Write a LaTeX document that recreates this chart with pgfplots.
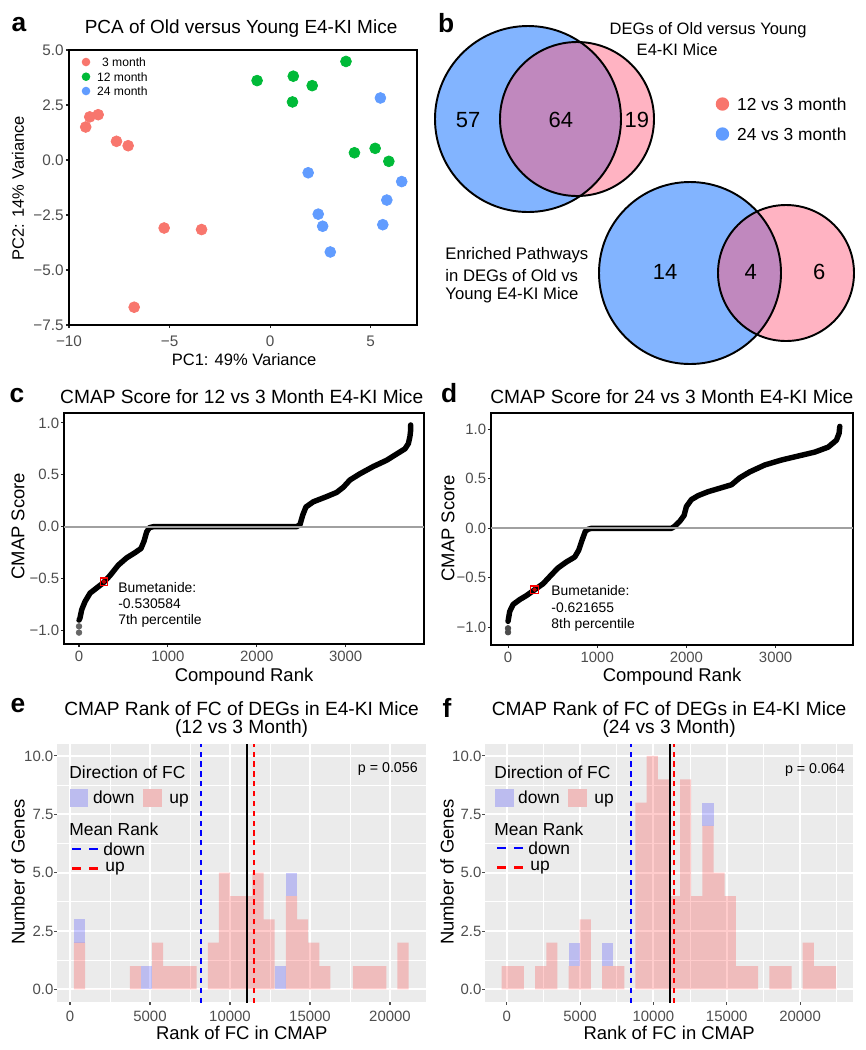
\documentclass[border=0pt]{standalone}
\usepackage{fontspec}
\setmainfont{Liberation Sans}
\usepackage{pgfplots}
\pgfplotsset{compat=1.18}
\usetikzlibrary{calc}

\definecolor{pcared}{HTML}{F8766D}
\definecolor{pcagreen}{HTML}{00BA38}
\definecolor{pcablue}{HTML}{619CFF}
\definecolor{vblue}{HTML}{82B4FF}
\definecolor{vpink}{HTML}{FFB3C2}
\definecolor{vpurple}{HTML}{C088BE}
\definecolor{ggbg}{HTML}{EBEBEB}
\definecolor{tickgray}{HTML}{4D4D4D}
\definecolor{hlgray}{HTML}{A0A0A0}
\definecolor{keyblue}{HTML}{BCBCEF}
\definecolor{keypink}{HTML}{EFBCBC}

\newcommand\pxu{0.02cm}
\newcommand\fTitle{\fontsize{10.9}{12}\selectfont}
\newcommand\fTitleTwo{\fontsize{10.9}{10.2}\selectfont}
\newcommand\fLab{\fontsize{10.5}{12}\selectfont}
\newcommand\fTick{\fontsize{8.5}{10}\selectfont}
\newcommand\fLeg{\fontsize{9.9}{11}\selectfont}
\newcommand\fAnn{\fontsize{7.9}{9}\selectfont}
\newcommand\fNum{\fontsize{12.5}{14}\selectfont}
\newcommand\fLetter{\fontsize{15}{17}\selectfont\bfseries}

\pgfplotsset{
  boxaxis/.style={scale only axis, anchor=north west,
    axis line style={line width=1.1pt, black},
    tick align=outside, major tick length=1.8pt, tick pos=left,
    tick style={line width=0.6pt, black!85},
    tick label style={font=\fTick, text=tickgray},
    xticklabel style={anchor=north, inner sep=0pt},
    yticklabel style={anchor=east, inner sep=0pt},
    scaled ticks=false, every axis plot/.append style={mark=none}},
  ggpanel/.style={scale only axis, anchor=north west,
    axis background/.style={fill=ggbg}, axis line style={draw=none},
    grid=both, major grid style={white, line width=1.1pt},
    minor grid style={white, line width=0.55pt},
    tick align=outside, major tick length=1.6pt, minor tick length=0pt, tick pos=left,
    tick style={line width=0.6pt, black!70},
    tick label style={font=\fTick, text=tickgray},
    xticklabel style={anchor=north, inner sep=0pt, yshift=-3.4pt},
    yticklabel style={anchor=east, inner sep=0pt, xshift=-0.3pt},
    scaled ticks=false, every axis plot/.append style={mark=none}},
  upbar/.style={ybar interval, fill=red, fill opacity=0.2, draw=none},
  downbar/.style={fill=blue, fill opacity=0.2, draw=none},
  meanline/.style={line width=1.1pt, dash pattern=on 3pt off 2.6pt},
}

\begin{document}
\begin{tikzpicture}
\path[use as bounding box] (0,0) rectangle (17.32cm,-21cm);

% ---- a: PCA
\begin{axis}[boxaxis, at={(1.38cm,-1.0cm)}, width=6.96cm, height=5.5cm,
  xmin=-10, xmax=7.3, ymin=-7.5, ymax=5.0,
  tick label style={font=\fontsize{8.7}{10}\selectfont},
  xticklabel style={yshift=-4.3pt}, yticklabel style={xshift=-1.1pt},
  xtick={-10,-5,0,5}, xticklabels={−10,−5,0,5},
  ytick={-7.5,-5,-2.5,0,2.5,5}, yticklabels={−7.5,−5.0,−2.5,0.0,2.5,5.0}]
\addplot[only marks, mark=*, mark size=3.1pt, color=pcared] coordinates {
  (-9.17,1.50) (-8.97,1.96) (-8.55,2.06) (-7.64,0.85)
  (-7.06,0.65) (-5.27,-3.09) (-3.41,-3.16) (-6.76,-6.69)};
\addplot[only marks, mark=*, mark size=3.1pt, color=pcagreen] coordinates {
  (-0.65,3.61) (1.15,3.81) (2.09,3.38) (1.11,2.64)
  (3.77,4.48) (4.19,0.33) (5.22,0.53) (5.90,-0.06)};
\addplot[only marks, mark=*, mark size=3.1pt, color=pcablue] coordinates {
  (5.48,2.82) (1.89,-0.58) (6.54,-0.98) (5.80,-1.82)
  (2.39,-2.46) (2.61,-3.01) (5.60,-2.94) (2.99,-4.18)};
\end{axis}

% ---- b: Venn diagrams
\begin{axis}[at={(8.6cm,0cm)}, anchor=north west, scale only axis,
  width=8.72cm, height=7.4cm, xmin=430, xmax=866, ymin=0, ymax=370,
  y dir=reverse, hide axis, clip=false]
\fill[vblue] (axis cs:528,119) circle[radius=1.86cm];
\fill[vpink] (axis cs:577,119) circle[radius=1.54cm];
\begin{scope}
  \clip (axis cs:528,119) circle[radius=1.86cm];
  \fill[vpurple] (axis cs:577,119) circle[radius=1.54cm];
\end{scope}
\draw[line width=1.1pt] (axis cs:528,119) circle[radius=1.86cm];
\draw[line width=1.1pt] (axis cs:577,119) circle[radius=1.54cm];
\fill[vblue] (axis cs:690,273) circle[radius=1.82cm];
\fill[vpink] (axis cs:786,273) circle[radius=1.36cm];
\begin{scope}
  \clip (axis cs:690,273) circle[radius=1.82cm];
  \fill[vpurple] (axis cs:786,273) circle[radius=1.36cm];
\end{scope}
\draw[line width=1.1pt] (axis cs:690,273) circle[radius=1.82cm];
\draw[line width=1.1pt] (axis cs:786,273) circle[radius=1.36cm];
\end{axis}

% ---- c: CMAP score 12 vs 3
\begin{axis}[boxaxis, at={(1.28cm,-8.26cm)}, width=7.2cm, height=4.62cm,
  xmin=-169, xmax=3881, ymin=-1.13, ymax=1.095,
  xticklabel style={yshift=-1.8pt}, yticklabel style={xshift=-0.8pt},
  xtick={0,1000,2000,3000}, xticklabels={0,1000,2000,3000},
  ytick={-1,-0.5,0,0.5,1}, yticklabels={−1.0,−0.5,0.0,0.5,1.0}]
\addplot[black, line width=3.1pt, line join=round, line cap=round] coordinates {
  (0,-0.90) (11,-0.88) (30,-0.80) (68,-0.72) (124,-0.64) (199,-0.59)
  (274,-0.54) (349,-0.47) (442,-0.37) (536,-0.30) (630,-0.25) (697,-0.21)
  (731,-0.14) (761,-0.05) (791,-0.01) (836,0) (2448,0) (2486,0.02)
  (2516,0.11) (2553,0.19) (2636,0.24) (2786,0.29) (2898,0.33) (2973,0.38)
  (3048,0.45) (3161,0.51) (3311,0.58) (3461,0.64) (3573,0.70) (3667,0.75)
  (3705,0.80) (3723,0.87) (3731,0.93) (3731,0.98)};
\addplot[only marks, mark=*, mark size=1.6pt, black!60] coordinates {(0,-0.96) (0,-1.02)};
\addplot[hlgray, line width=1.1pt] coordinates {(-169,0) (3881,0)};
\addplot[only marks, mark=square, mark size=2.1pt, red, line width=0.6pt] coordinates {(280,-0.53)};
\addplot[only marks, mark=*, mark size=1.1pt, red!75!black] coordinates {(280,-0.53)};
\end{axis}

% ---- d: CMAP score 24 vs 3
\begin{axis}[boxaxis, at={(9.82cm,-8.26cm)}, width=7.24cm, height=4.64cm,
  xmin=-191, xmax=3868, ymin=-1.179, ymax=1.165,
  xticklabel style={yshift=-1.8pt}, yticklabel style={xshift=-0.8pt},
  xtick={0,1000,2000,3000}, xticklabels={0,1000,2000,3000},
  ytick={-1,-0.5,0,0.5,1}, yticklabels={−1.0,−0.5,0.0,0.5,1.0}]
\addplot[black, line width=3.1pt, line join=round, line cap=round] coordinates {
  (0,-0.94) (19,-0.84) (56,-0.77) (131,-0.72) (206,-0.68) (299,-0.62)
  (393,-0.56) (486,-0.47) (561,-0.40) (654,-0.34) (748,-0.29) (793,-0.22)
  (830,-0.12) (867,-0.03) (897,-0.01) (935,0) (1832,0) (1869,0.02)
  (1925,0.07) (1974,0.13) (2000,0.22) (2056,0.29) (2131,0.33) (2243,0.37)
  (2393,0.41) (2505,0.44) (2598,0.51) (2710,0.57) (2879,0.64) (3065,0.69)
  (3252,0.73) (3439,0.77) (3589,0.82) (3682,0.89) (3712,0.96) (3720,1.03)};
\addplot[only marks, mark=*, mark size=1.6pt, black!70] coordinates {(0,-1.01) (0,-1.05)};
\addplot[hlgray, line width=1.1pt] coordinates {(-191,0) (3868,0)};
\addplot[only marks, mark=square, mark size=2.1pt, red, line width=0.6pt] coordinates {(298,-0.62)};
\addplot[only marks, mark=*, mark size=1.1pt, red!75!black] coordinates {(298,-0.62)};
\end{axis}

% ---- e: histogram 12 vs 3
\begin{axis}[ggpanel, at={(1.14cm,-14.88cm)}, width=7.38cm, height=5.16cm,
  xmin=-812, xmax=22250, ymin=-0.54, ymax=10.51,
  xtick={0,5000,10000,15000,20000}, xticklabels={0,5000,10000,15000,20000},
  minor xtick={2500,7500,12500,17500},
  ytick={0,2.5,5,7.5,10}, yticklabels={0.0,2.5,5.0,7.5,10.0},
  minor ytick={1.25,3.75,6.25,8.75}]
\addplot[upbar] coordinates {
  (250,2) (947,0) (1644,0) (2341,0) (3038,0) (3735,1) (4432,0) (5129,2)
  (5826,1) (6523,1) (7220,1) (7917,0) (8614,2) (9311,5) (10008,4) (10705,4)
  (11402,5) (12099,3) (12796,0) (13493,4) (14190,3) (14887,2) (15584,1)
  (16281,0) (16978,0) (17675,1) (18372,1) (19069,1) (19766,0) (20463,2) (21160,0)};
\addplot[downbar] coordinates {(250,2) (947,2) (947,3) (250,3)};
\addplot[downbar] coordinates {(4432,0) (5129,0) (5129,1) (4432,1)};
\addplot[downbar] coordinates {(12796,0) (13493,0) (13493,1) (12796,1)};
\addplot[downbar] coordinates {(13493,4) (14190,4) (14190,5) (13493,5)};
\addplot[blue, meanline] coordinates {(8188,-1) (8188,11)};
\addplot[black, line width=1.1pt] coordinates {(11083,-1) (11083,11)};
\addplot[red, meanline] coordinates {(11500,-1) (11500,11)};
\end{axis}

% ---- f: histogram 24 vs 3
\begin{axis}[ggpanel, at={(9.7cm,-14.88cm)}, width=7.36cm, height=5.16cm,
  xmin=-1479, xmax=23606, ymin=-0.54, ymax=10.51,
  xtick={0,5000,10000,15000,20000}, xticklabels={0,5000,10000,15000,20000},
  minor xtick={2500,7500,12500,17500,22500},
  ytick={0,2.5,5,7.5,10}, yticklabels={0.0,2.5,5.0,7.5,10.0},
  minor ytick={1.25,3.75,6.25,8.75}]
\addplot[upbar] coordinates {
  (-341,1) (419,1) (1179,0) (1939,1) (2699,2) (3459,0) (4219,1) (4979,3)
  (5739,0) (6499,1) (7259,1) (8019,0) (8779,8) (9539,10) (10299,9) (11059,4)
  (11819,9) (12579,4) (13339,7) (14099,5) (14859,4) (15619,1) (16379,1)
  (17139,0) (17899,1) (18659,1) (19419,0) (20179,2) (20939,1) (21699,1) (22459,0)};
\addplot[downbar] coordinates {(4219,1) (4979,1) (4979,2) (4219,2)};
\addplot[downbar] coordinates {(6499,1) (7259,1) (7259,2) (6499,2)};
\addplot[downbar] coordinates {(13339,7) (14099,7) (14099,8) (13339,8)};
\addplot[blue, meanline] coordinates {(8453,-1) (8453,11)};
\addplot[black, line width=1.1pt] coordinates {(11132,-1) (11132,11)};
\addplot[red, meanline] coordinates {(11425,-1) (11425,11)};
\end{axis}

% ---- text, titles and legends in pixel coordinates
\begin{scope}[x=\pxu, y=-\pxu, every node/.style={inner sep=0pt}]
% letters
\node[font=\fLetter] at (19,25) {a};
\node[font=\fLetter] at (446,23) {b};
\node[font=\fLetter] at (17,395) {c};
\node[font=\fLetter] at (449,393) {d};
\node[font=\fLetter] at (18,705) {e};
\node[font=\fLetter] at (447,708) {f};
% a
\node[font=\fontsize{10.8}{12}\selectfont] at (241,29) {PCA of Old versus Young E4-KI Mice};
\node[font=\fontsize{9.4}{11}\selectfont] at (244,360) {PC1: 49\% Variance};
\node[font=\fontsize{9.4}{11}\selectfont, rotate=90] at (18,188) {PC2: 14\% Variance};
\fill[pcared] (86,62) circle[radius=4.3];
\fill[pcagreen] (86,76.7) circle[radius=4.3];
\fill[pcablue] (86,91) circle[radius=4.3];
\node[font=\fontsize{6.9}{8}\selectfont, anchor=west] at (101.7,62) {3 month};
\node[font=\fontsize{6.9}{8}\selectfont, anchor=west] at (96.7,76.7) {12 month};
\node[font=\fontsize{6.9}{8}\selectfont, anchor=west] at (96.7,91) {24 month};
% b
\node[font=\fontsize{9.4}{11}\selectfont] at (708,30) {DEGs of Old versus Young};
\node[font=\fontsize{9.4}{11}\selectfont] at (677,50) {E4-KI Mice};
\node[font=\fNum] at (468,120) {57};
\node[font=\fNum] at (560.7,120) {64};
\node[font=\fNum] at (636.7,120) {19};
\node[font=\fNum] at (665,272) {14};
\node[font=\fNum] at (750.7,272) {4};
\node[font=\fNum] at (819,272) {6};
\fill[pcared] (722.3,104) circle[radius=6.7];
\fill[pcablue] (722.3,134) circle[radius=6.7];
\node[font=\fLeg, anchor=west] at (736.7,104) {12 vs 3 month};
\node[font=\fLeg, anchor=west] at (736.7,134) {24 vs 3 month};
\node[font=\fontsize{9.5}{11}\selectfont, anchor=west] at (445,255) {Enriched Pathways};
\node[font=\fontsize{9.5}{11}\selectfont, anchor=west] at (445,275) {in DEGs of Old vs};
\node[font=\fontsize{9.5}{11}\selectfont, anchor=west] at (445,295) {Young E4-KI Mice};
% c, d
\node[font=\fTitle] at (241.7,397) {CMAP Score for 12 vs 3 Month E4-KI Mice};
\node[font=\fTitle] at (671.7,397) {CMAP Score for 24 vs 3 Month E4-KI Mice};
\node[font=\fLab] at (244,677) {Compound Rank};
\node[font=\fLab] at (672,677) {Compound Rank};
\node[font=\fLab, rotate=90] at (18,526) {CMAP Score};
\node[font=\fLab, rotate=90] at (448,528) {CMAP Score};
\node[font=\fAnn, anchor=west] at (118,587) {Bumetanide:};
\node[font=\fAnn, anchor=west] at (118,604) {-0.530584};
\node[font=\fAnn, anchor=west] at (118,621) {7th percentile};
\node[font=\fAnn, anchor=west] at (551,590) {Bumetanide:};
\node[font=\fAnn, anchor=west] at (551,608) {-0.621655};
\node[font=\fAnn, anchor=west] at (551,625) {8th percentile};
% e, f titles and labels
\node[font=\fTitleTwo, align=center] at (241.5,719) {CMAP Rank of FC of DEGs in E4-KI Mice\\(12 vs 3 Month)};
\node[font=\fTitleTwo, align=center] at (669,719) {CMAP Rank of FC of DEGs in E4-KI Mice\\(24 vs 3 Month)};
\node[font=\fLab] at (241.7,1033) {Rank of FC in CMAP};
\node[font=\fLab] at (669,1033) {Rank of FC in CMAP};
\node[font=\fLab, rotate=90] at (18,872) {Number of Genes};
\node[font=\fLab, rotate=90] at (447,872) {Number of Genes};
\node[font=\fontsize{8.1}{9}\selectfont, anchor=east] at (418,769) {p = 0.056};
\node[font=\fontsize{8.1}{9}\selectfont, anchor=east] at (845,770) {p = 0.064};
% e legend
\node[font=\fLeg, anchor=base west] at (69,778) {Direction of FC};
\fill[keyblue] (70,789) rectangle (88,807);
\fill[keypink] (143,789) rectangle (162,807);
\node[font=\fLeg, anchor=base west] at (92.7,803.3) {down};
\node[font=\fLeg, anchor=base west] at (169,803.3) {up};
\node[font=\fLeg, anchor=base west] at (69,835) {Mean Rank};
\draw[blue, line width=1.5pt] (72,849)--(80.7,849) (89.3,849)--(98,849);
\draw[red, line width=1.5pt] (72,868)--(80.7,868) (89.3,868)--(98,868);
\node[font=\fLeg, anchor=base west] at (103,855) {down};
\node[font=\fLeg, anchor=base west] at (105,871.7) {up};
% f legend
\node[font=\fLeg, anchor=base west] at (494,778) {Direction of FC};
\fill[keyblue] (495,789) rectangle (514,807);
\fill[keypink] (568,789) rectangle (587,807);
\node[font=\fLeg, anchor=base west] at (517.7,803.3) {down};
\node[font=\fLeg, anchor=base west] at (594,803.3) {up};
\node[font=\fLeg, anchor=base west] at (494,835) {Mean Rank};
\draw[blue, line width=1.5pt] (497,848)--(505.7,848) (514.3,848)--(523,848);
\draw[red, line width=1.5pt] (497,867)--(505.7,867) (514.3,867)--(523,867);
\node[font=\fLeg, anchor=base west] at (528,854) {down};
\node[font=\fLeg, anchor=base west] at (530,870.7) {up};
\end{scope}
\end{tikzpicture}
\end{document}
